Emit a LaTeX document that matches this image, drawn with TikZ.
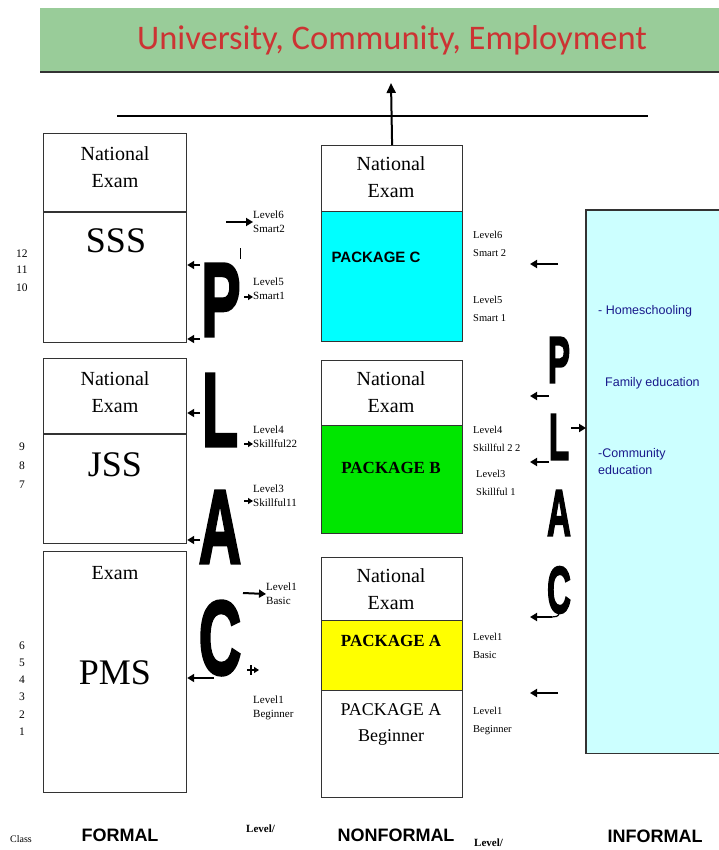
\documentclass[tikz,border=0pt]{standalone}
\usepackage{fontspec}
\setmainfont{Liberation Serif}
\newfontfamily\arialf{Liberation Sans}
\newfontfamily\heavyf[BoldFeatures={FakeBold=3}]{Liberation Sans}
\newfontfamily\bannerf{Carlito}
\usetikzlibrary{arrows.meta}
\definecolor{bannergreen}{HTML}{99CC99}
\definecolor{bannerred}{HTML}{CC3333}
\definecolor{pkcyan}{HTML}{00FFFF}
\definecolor{pkgreen}{HTML}{00E600}
\definecolor{pkyellow}{HTML}{FFFF00}
\definecolor{infofill}{HTML}{CCFFFF}
\definecolor{infoblue}{HTML}{1A1A8C}
\definecolor{edge}{HTML}{333333}
\begin{document}
\begin{tikzpicture}[x=1pt,y=-1pt,
  box/.style={draw=edge, line width=1.2pt, inner sep=0pt, anchor=north west, minimum width=141pt},
  fbox/.style={box, minimum width=143pt},
  arr/.style={line width=2pt, -{Triangle[length=7pt,width=8pt]}},
  sarr/.style={line width=1.5pt, -{Triangle[length=5pt,width=6pt]}},
  ntxt/.style={font=\fontsize{20}{27}\selectfont, align=center, inner sep=0pt},
  bigtxt/.style={font=\fontsize{36}{40}\selectfont, inner sep=0pt},
  lbl/.style={font=\fontsize{11}{14}\selectfont, align=left, anchor=west, inner sep=0pt},
  rlbl/.style={font=\fontsize{10.5}{18}\selectfont, align=left, anchor=west, inner sep=0pt},
  num/.style={font=\fontsize{11.5}{12}\selectfont, inner sep=0pt},
  bigL/.style={font=\heavyf\bfseries\fontsize{105}{105}\selectfont, inner sep=0pt},
  smL/.style={font=\heavyf\bfseries\fontsize{66}{66}\selectfont, inner sep=0pt},
  foot/.style={font=\arialf\bfseries\fontsize{18}{20}\selectfont, inner sep=0pt},
  info/.style={font=\arialf\fontsize{12.5}{17}\selectfont, text=infoblue, align=left, anchor=west, inner sep=0pt}
]
\useasboundingbox (0,0) rectangle (719,850);

% banner
\node[fill=bannergreen, inner sep=0pt, anchor=north west, minimum width=679pt, minimum height=64pt] (banner) at (40,8) {};
\draw[draw=edge, line width=2pt] (banner.south west) -- (banner.south east);
\node[font=\bannerf\fontsize{34.5}{36}\selectfont, text=bannerred, inner sep=0pt] (btxt) at (392,40) {University, Community, Employment};

% horizontal line and arrow up
\coordinate (hl1) at (117,116);
\coordinate (hl2) at (648,116);
\draw[line width=1.2pt] (hl1) -- (hl2);
\coordinate (up) at (391,83);

% FORMAL column
\node[fbox, minimum height=209pt] (sss) at (43,133) {};
\draw[draw=edge, line width=1.2pt] (sss.west |- 0,212) -- (sss.east |- 0,212);
\node[ntxt] (sssn) at (115,167) {National\\Exam};
\node[bigtxt] (ssst) at (116,241) {SSS};

\node[fbox, minimum height=185pt] (jss) at (43,358) {};
\draw[draw=edge, line width=1.2pt] (jss.west |- 0,434) -- (jss.east |- 0,434);
\node[ntxt] (jssn) at (115,392) {National\\Exam};
\node[bigtxt] (jsst) at (115,465) {JSS};

\node[fbox, minimum height=241pt] (pms) at (43,551) {};
\node[ntxt] (pmsn) at (115,573) {Exam};
\node[bigtxt] (pmst) at (115,673) {PMS};

% class numbers
\node[num] at (22,254) {12};
\node[num] at (22,270) {11};
\node[num] at (22,288) {10};
\node[num] at (22,447) {9};
\node[num] at (22,466) {8};
\node[num] at (22,485) {7};
\node[num] at (22,646) {6};
\node[num] at (22,663) {5};
\node[num] at (22,680) {4};
\node[num] at (22,697) {3};
\node[num] at (22,715) {2};
\node[num] at (22,732) {1};

% NONFORMAL column
\node[box, fill=white, minimum height=66pt] (ncC) at (321,145) {};
\node[box, fill=pkcyan, minimum height=130pt] (pkC) at (321,211) {};
\node[ntxt] (ncCt) at (391,177) {National\\Exam};
\node[font=\arialf\bfseries\fontsize{15}{17}\selectfont, inner sep=0pt] (pkCt) at (376,257) {PACKAGE C};

\node[box, fill=white, minimum height=65pt] (ncB) at (321,360) {};
\node[box, fill=pkgreen, minimum height=108pt] (pkB) at (321,425) {};
\node[ntxt] (ncBt) at (391,392) {National\\Exam};
\node[font=\bfseries\fontsize{17}{19}\selectfont, inner sep=0pt] (pkBt) at (391,468) {PACKAGE B};

\node[box, fill=white, minimum height=63pt] (ncA) at (321,557) {};
\node[box, fill=pkyellow, minimum height=70pt] (pkA) at (321,620) {};
\node[box, fill=white, minimum height=107pt] (pkAb) at (321,690) {};
\node[ntxt] (ncAt) at (391,589) {National\\Exam};
\node[font=\bfseries\fontsize{17}{19}\selectfont, inner sep=0pt] (pkAt) at (391,641) {PACKAGE A};
\node[font=\fontsize{18}{26}\selectfont, align=center, inner sep=0pt] (pkAbt) at (391,724) {PACKAGE A\\Beginner};

\draw[line width=2pt, -{Triangle[length=10pt,width=9pt]}] (ncC.north) -- (up);

% INFORMAL column
\node[fill=infofill, inner sep=0pt, anchor=north west, minimum width=133pt, minimum height=543pt] (inf) at (586,210) {};
\draw[draw=edge, line width=1.2pt] (inf.north east) -- (inf.north west) -- (inf.south west) -- (inf.south east);
\node[info] (i1) at (598,311) {- Homeschooling};
\node[info] (i2) at (605,383) {Family education};
\node[info] (i3) at (598,462) {-Community\\education};

% big PLAC letters (left)
\node[bigL] (P1) at (221,300) {\scalebox{0.56}[1]{P}};
\node[bigL] (L1) at (220,410) {\scalebox{0.56}[1]{L}};
\node[bigL] (A1) at (220,527) {\scalebox{0.56}[1]{A}};
\node[bigL] (C1) at (220,638) {\scalebox{0.56}[1]{C}};

% small PLAC letters (right)
\node[smL] (P2) at (559,360) {\scalebox{0.5}[1]{P}};
\node[smL] (L2) at (559,437) {\scalebox{0.5}[1]{L}};
\node[smL] (A2) at (559,513) {\scalebox{0.5}[1]{A}};
\node[smL] (C2) at (559,590) {\scalebox{0.5}[1]{C}};

% left labels
\node[lbl] (l6) at (253,222) {Level6\\Smart2};
\node[lbl] (l5) at (253,289) {Level5\\Smart1};
\node[lbl] (l4) at (253,437) {Level4\\Skillful22};
\node[lbl] (l3) at (253,496) {Level3\\Skillful11};
\node[lbl] (l1a) at (266,594) {Level1\\Basic};
\node[lbl] (l1b) at (253,708) {Level1\\Beginner};

\draw[arr] (226,222) -- (l6.west);
\draw[line width=1pt] (240,248) -- (240,259);
\draw[sarr] (244,297) -- (253,297);
\draw[sarr] (244,444) -- (253,444);
\draw[sarr] (244,501) -- (253,501);
\draw[arr] (243,593) -- (l1a.west);
\draw[sarr] (247,670) -- (259,670);
\draw[line width=1.5pt] (251,665) -- (251,675);

\draw[arr] (200,265) -- (sss.east |- 0,265);
\draw[arr] (200,339) -- (sss.east |- 0,339);
\draw[arr] (200,413) -- (jss.east |- 0,413);
\draw[arr] (200,540) -- (jss.east |- 0,540);
\draw[arr] (214,678) -- (pms.east |- 0,678);

% right labels
\node[rlbl] (r6) at (473,244) {Level6\\Smart 2};
\node[rlbl] (r5) at (473,309) {Level5\\Smart 1};
\node[rlbl] (r4) at (473,439) {Level4\\Skillful 2 2};
\node[rlbl] (r3) at (476,483) {Level3\\Skillful 1};
\node[rlbl] (r1a) at (473,646) {Level1\\Basic};
\node[rlbl] (r1b) at (473,721) {Level1\\Beginner};

\draw[arr] (558,264) -- (530,264);
\draw[arr] (549,396) -- (530,396);
\draw[arr] (549,462) -- (530,462);
\draw[arr] (571,428) -- (inf.west |- 0,428);
\draw[line width=1.2pt] (C2.south) to[out=-100,in=0] (552,617);
\draw[arr] (552,617) -- (530,617);
\draw[arr] (558,693) -- (530,693);

% footer
\node[font=\fontsize{10}{12}\selectfont, anchor=west, inner sep=0pt] (cls) at (10,839) {Class};
\node[foot] (fformal) at (120,835) {FORMAL};
\node[font=\bfseries\fontsize{11}{12}\selectfont, anchor=west, inner sep=0pt] (lev1) at (246,829) {Level/};
\node[foot] (fnon) at (396,835) {NONFORMAL};
\node[font=\bfseries\fontsize{11}{12}\selectfont, anchor=west, inner sep=0pt] (lev2) at (474,843) {Level/};
\node[foot] (finf) at (655,836) {INFORMAL};
\end{tikzpicture}
\end{document}
